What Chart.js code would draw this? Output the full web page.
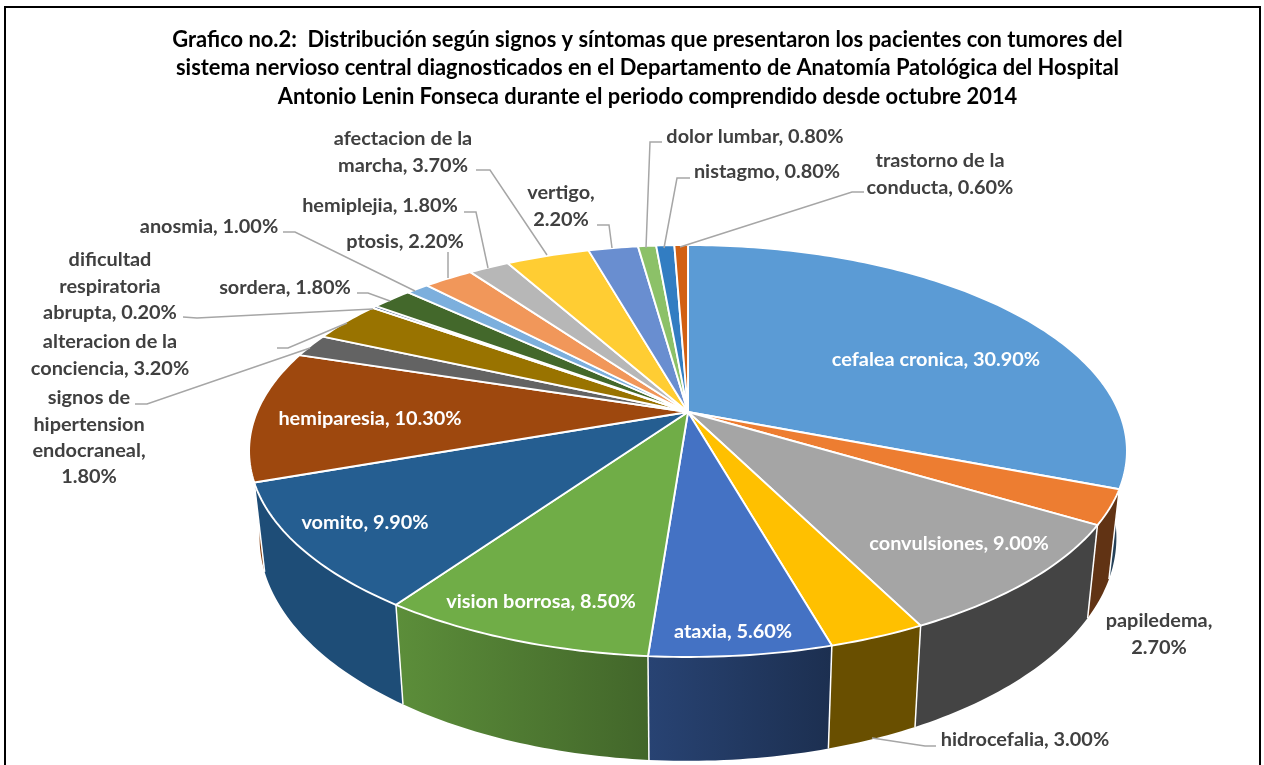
<!DOCTYPE html>
<html>
<head>
<meta charset="utf-8">
<title>Grafico no.2</title>
<script src="https://cdn.jsdelivr.net/npm/chart.js@4"></script>
<style>
  html, body { margin: 0; padding: 0; background: #fff; }
  canvas { display: block; }
</style>
</head>
<body>
<canvas id="grafico" width="1264" height="765"></canvas>
<script>
const titulo = [
  "Grafico no.2:  Distribución según signos y síntomas que presentaron los pacientes con tumores del",
  "sistema nervioso central diagnosticados en el Departamento de Anatomía Patológica del Hospital",
  "Antonio Lenin Fonseca durante el periodo comprendido desde octubre 2014"
];
const categorias = ["cefalea cronica", "papiledema", "convulsiones", "hidrocefalia", "ataxia",
  "vision borrosa", "vomito", "hemiparesia", "signos de hipertension endocraneal", "alteracion de la conciencia",
  "dificultad respiratoria abrupta", "sordera", "anosmia", "ptosis", "hemiplejia",
  "afectacion de la marcha", "vertigo", "dolor lumbar", "nistagmo", "trastorno de la conducta"];
const valores = [30.9, 2.7, 9.0, 3.0, 5.6, 8.5, 9.9, 10.3, 1.8, 3.2, 0.2, 1.8, 1.0, 2.2, 1.8, 3.7, 2.2, 0.8, 0.8, 0.6];
const colores = ["#5B9BD5", "#ED7D31", "#A5A5A5", "#FFC000", "#4472C4", "#70AD47", "#255E91", "#9E480E", "#636363", "#997300",
  "#264478", "#43682B", "#7CAFDD", "#F1975A", "#B7B7B7", "#FFCD33", "#698ED0", "#8CC168", "#327DC2", "#D26012"];

// palabras por linea de cada etiqueta
const palabrasLinea = [[3], [1, 1], [2], [2], [2], [3], [2], [2], [2, 1, 1, 1], [3, 2],
  [1, 1, 2], [2], [2], [2], [2], [3, 2], [1, 1], [3], [2], [3, 2]];
// centro de la etiqueta y altura de la primera linea
const etiquetaX = [936, 1159, 959, 1025, 733, 541, 365, 370, 89, 110, 110, 285, 209, 405, 380, 403, 561, 755, 767, 940];
const etiquetaY = [360, 621, 544, 740, 632, 602, 523, 419, 398, 342, 260, 288, 227, 242, 206, 139, 193, 137, 172, 161];
const etiquetaBlanca = [true, false, true, false, true, true, true, true];
// lineas guia de las etiquetas exteriores
const guias = [
  [[936, 746], [925, 746], [872, 738]],
  [[135, 404], [147, 404], [310, 348]],
  [[277, 348], [288, 348], [347, 323]],
  [[183, 317], [197, 318], [373, 309]],
  [[357, 293], [368, 293], [390, 301]],
  [[283, 232], [295, 232], [415, 291]],
  [[448, 252], [448, 278]],
  [[464, 212], [476, 212], [488, 268]],
  [[476, 170], [490, 170], [547, 255]],
  [[597, 225], [609, 225], [612, 248]],
  [[662, 142], [650, 142], [646, 248]],
  [[690, 178], [677, 178], [664, 248]],
  [[864, 192], [852, 192], [680, 247]]
];

// proyeccion en perspectiva del disco
const disco = { cx: 688, cy: 412, a: 431, b: 198.6, p: 0.1893 };
const base = { kx: 0.976, y0: 573.5, refY: 484, ky: 1.083 };

function proyectar(ang) {
  const u = Math.cos(ang), v = Math.sin(ang);
  const w = 1 - disco.p * v;
  return { x: disco.cx + disco.a * u / w, y: disco.cy + disco.b * v / w };
}
function bajar(pt) {
  return { x: disco.cx + base.kx * (pt.x - disco.cx), y: base.y0 + base.ky * (pt.y - base.refY) };
}
function borde(ini, fin) {
  const n = Math.max(2, Math.ceil((fin - ini) * 60));
  const pts = [];
  for (let i = 0; i <= n; i++) pts.push(proyectar(ini + (fin - ini) * i / n));
  return pts;
}
function oscurecer(hex, f) {
  const n = parseInt(hex.slice(1), 16);
  return `rgb(${Math.round((n >> 16) * f)},${Math.round(((n >> 8) & 255) * f)},${Math.round((n & 255) * f)})`;
}
// la pared se oscurece de izquierda a derecha
function sombra(x) {
  const u = (x - disco.cx) / disco.a;
  if (u <= -0.6) return 0.82;
  if (u >= 0.3) return 0.41;
  return 0.82 - (u + 0.6) / 0.9 * 0.41;
}

const perspectiva = {
  id: "perspectiva",
  beforeDraw(chart) {
    const ctx = chart.ctx;
    ctx.save();
    ctx.fillStyle = "#fff";
    ctx.fillRect(0, 0, chart.width, chart.height);
    ctx.strokeStyle = "#000";
    ctx.lineWidth = 2;
    ctx.strokeRect(5, 7, 1255, 800);
    ctx.restore();
  },
  beforeDatasetsDraw(chart) {
    const ctx = chart.ctx;
    const arcos = chart.getDatasetMeta(0).data;
    ctx.save();
    ctx.lineJoin = "round";

    // paredes, de atras hacia adelante
    const orden = arcos.map((a, i) => i).sort((i, j) =>
      Math.sin((arcos[i].startAngle + arcos[i].endAngle) / 2) - Math.sin((arcos[j].startAngle + arcos[j].endAngle) / 2));
    orden.forEach(i => {
      const arc = arcos[i];
      const pts = borde(arc.startAngle, arc.endAngle);
      const abajo = pts.map(bajar).reverse();
      const x0 = pts[0].x, x1 = pts[pts.length - 1].x;
      const grad = ctx.createLinearGradient(Math.min(x0, x1), 0, Math.max(x0, x1) + 1, 0);
      const izq = x0 < x1 ? x0 : x1, der = x0 < x1 ? x1 : x0;
      grad.addColorStop(0, oscurecer(arc.options.backgroundColor, sombra(izq)));
      grad.addColorStop(1, oscurecer(arc.options.backgroundColor, sombra(der)));
      ctx.beginPath();
      pts.concat(abajo).forEach((p, k) => k ? ctx.lineTo(p.x, p.y) : ctx.moveTo(p.x, p.y));
      ctx.closePath();
      ctx.fillStyle = grad;
      ctx.fill();
    });
    // aristas verticales entre paredes
    ctx.strokeStyle = "#fff";
    ctx.lineWidth = 1.5;
    arcos.forEach(arc => {
      const p = proyectar(arc.startAngle), q = bajar(p);
      ctx.beginPath();
      ctx.moveTo(p.x, p.y);
      ctx.lineTo(q.x, q.y);
      ctx.stroke();
    });

    // cara superior
    arcos.forEach(arc => {
      const pts = borde(arc.startAngle, arc.endAngle);
      ctx.beginPath();
      ctx.moveTo(disco.cx, disco.cy);
      pts.forEach(p => ctx.lineTo(p.x, p.y));
      ctx.closePath();
      ctx.fillStyle = arc.options.backgroundColor;
      ctx.fill();
      ctx.strokeStyle = "#fff";
      ctx.lineWidth = 1.9;
      ctx.stroke();
    });
    ctx.restore();
    return false;
  },
  afterDraw(chart) {
    const ctx = chart.ctx;
    ctx.save();
    ctx.strokeStyle = "#A6A6A6";
    ctx.lineWidth = 1.5;
    guias.forEach(g => {
      ctx.beginPath();
      g.forEach((p, k) => k ? ctx.lineTo(p[0], p[1]) : ctx.moveTo(p[0], p[1]));
      ctx.stroke();
    });
    ctx.font = "bold 19.9px Lato";
    ctx.textAlign = "center";
    ctx.textBaseline = "middle";
    categorias.forEach((cat, i) => {
      const palabras = (cat + ", " + valores[i].toFixed(2) + "%").split(" ");
      let k = 0;
      ctx.fillStyle = etiquetaBlanca[i] ? "#fff" : "#404040";
      palabrasLinea[i].forEach((n, l) => {
        ctx.fillText(palabras.slice(k, k + n).join(" "), etiquetaX[i], etiquetaY[i] + l * 26.2);
        k += n;
      });
    });
    ctx.restore();
  }
};

new Chart(document.getElementById("grafico"), {
  type: "pie",
  data: {
    labels: categorias,
    datasets: [{ data: valores, backgroundColor: colores, borderWidth: 0 }]
  },
  options: {
    responsive: false,
    animation: false,
    layout: { padding: { left: 31 } },
    events: [],
    plugins: {
      legend: { display: false },
      tooltip: { enabled: false },
      title: {
        display: true,
        text: titulo,
        color: "#000",
        font: { family: "Lato", size: 21.9, weight: "bold", lineHeight: 1.3 },
        padding: { top: 25.5, bottom: 10 }
      }
    }
  },
  plugins: [perspectiva]
});
</script>
</body>
</html>
